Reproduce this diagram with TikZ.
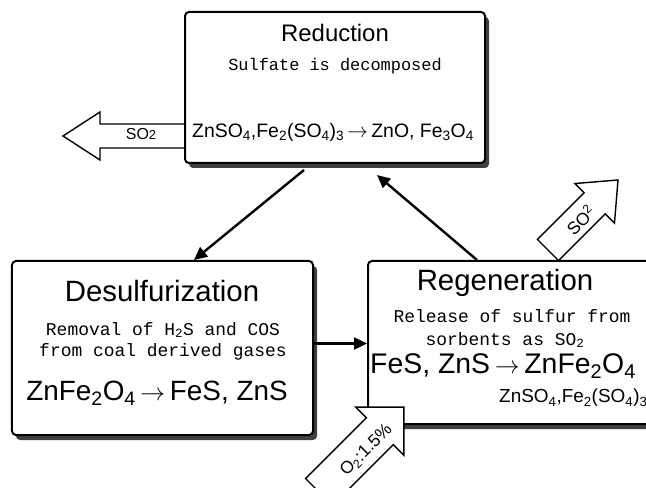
\documentclass[tikz,border=0pt]{standalone}
\usepackage{fontspec}
\setmainfont{Liberation Sans}
\newfontfamily\monof{Liberation Mono}
\usetikzlibrary{arrows.meta,shadows}
\newcommand\sbs[1]{\textsubscript{#1}}
\newcommand\spp[1]{\textsuperscript{#1}}
\newcommand\arr{\,$\rightarrow$\,}
\begin{document}
\begin{tikzpicture}[x=1bp,y=-1bp,
  box/.style={draw=black, line width=2bp, rounded corners=4bp, fill=white,
    drop shadow={shadow xshift=4bp, shadow yshift=-5bp, fill=black!75, opacity=1}},
  conn/.style={line width=2.4bp, -{Triangle[length=13bp,width=12bp]}},
  blk/.style={draw=black, line width=1.4bp, fill=white, line join=miter},
  title/.style={font=\fontsize{24}{28}\selectfont, inner sep=0pt},
  desc/.style={font=\monof\fontsize{18}{21}\selectfont, inner sep=0pt},
  eqn/.style={inner sep=0pt},
  lbl/.style={inner sep=0pt, font=\fontsize{17.5}{19}\selectfont}
]
\useasboundingbox (0,0) rectangle (646,488);
\clip (0,0) rectangle (646,488);

% left SO2 block arrow
\draw[blk] (63,136) -- (100,112) -- (100,124) -- (187,124) -- (187,148) -- (100,148) -- (100,160) -- cycle;
\node[lbl, font=\fontsize{16}{18}\selectfont] (so2a) at (141,134) {SO{\fontsize{13}{14}\selectfont 2}};

% Reduction
\node[box, minimum width=300bp, minimum height=151bp] (red) at (335,87.5) {};
\node[title] (redt) at (335,33) {Reduction};
\node[desc, font=\monof\fontsize{17}{21}\selectfont] (redd) at (335,66) {Sulfate is decomposed};
\node[eqn, font=\fontsize{19.5}{22}\selectfont] (rede) at (333,132)
  {ZnSO\sbs4,Fe\sbs2(SO\sbs4)\sbs3\arr ZnO, Fe\sbs3O\sbs4};

% Desulfurization
\node[box, minimum width=301bp, minimum height=174bp] (desu) at (162.5,348) {};
\node[title, font=\fontsize{29.5}{32}\selectfont] (desut) at (162,291) {Desulfurization};
\node[desc] (desd1) at (163,330) {Removal of H\sbs2S and COS};
\node[desc] (desd2) at (163,352) {from coal derived gases};
\node[eqn, font=\fontsize{28}{30}\selectfont] (dese) at (157,393)
  {ZnFe\sbs2O\sbs4\arr FeS, ZnS};

% Regeneration
\node[box, minimum width=312bp, minimum height=163bp] (reg) at (524,342.5) {};
\node[title, font=\fontsize{29.5}{32}\selectfont] (regt) at (505,283) {Regeneration};
\node[desc] (regd1) at (512,316) {Release of sulfur from};
\node[desc] (regd2) at (505,340) {sorbents as SO\sbs2};
\node[eqn, font=\fontsize{28.5}{30}\selectfont, anchor=west] (rege) at (370,366)
  {FeS, ZnS\arr ZnFe\sbs2O\sbs4};
\node[eqn, font=\fontsize{19}{21}\selectfont, anchor=west] (rege2) at (499,398)
  {ZnSO\sbs4,Fe\sbs2(SO\sbs4)\sbs3};

% connectors
\draw[conn] ([xshift=120bp,yshift=-6bp]red.south west) -- ([xshift=183bp]desu.north west);
\draw[conn] ([xshift=110bp]reg.north west) -- ([xshift=193bp,yshift=-11bp]red.south west);
\draw[conn] ([yshift=-1bp]reg.west -| desu.east) -- ([yshift=-1bp]reg.west);

% top-right SO2 block arrow
\begin{scope}[shift={(548,250)}, rotate=45]
  \draw[blk] (0,-15) -- (66,-15) -- (66,-28) -- (99,0) -- (66,28) -- (66,15) -- (0,15) -- cycle;
  \node[lbl, rotate=45] (so2b) at (44,2) {SO\spp{2}};
\end{scope}

% O2 block arrow
\begin{scope}[shift={(319,492)}, rotate=45]
  \draw[blk] (0,-19) -- (86,-19) -- (86,-34) -- (120,0) -- (86,34) -- (86,19) -- (0,19) -- cycle;
  \node[lbl, rotate=45] (o2) at (63,4) {O\sbs{2}:1.5\%};
\end{scope}
\end{tikzpicture}
\end{document}
